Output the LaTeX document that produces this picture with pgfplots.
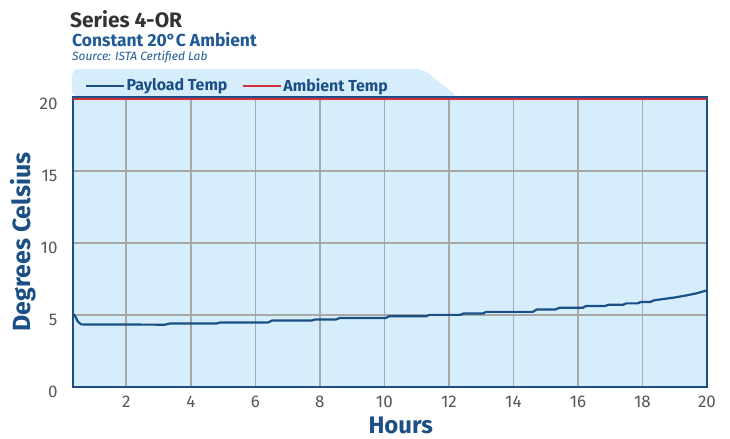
\documentclass[border=0pt]{standalone}
\usepackage{pgfplots}
\pgfplotsset{compat=1.18}
\usepackage{fontspec}
\setmainfont{Fira Sans}
\definecolor{bgblue}{HTML}{D6EEFB}
\definecolor{navy}{HTML}{1B4F86}
\definecolor{titleblue}{HTML}{1F5A96}
\definecolor{ambred}{HTML}{D3303C}
\definecolor{gridgray}{HTML}{A8A8A8}
\definecolor{ticktext}{HTML}{555555}
\definecolor{titlegray}{HTML}{333333}
\begin{document}
\begin{tikzpicture}
\useasboundingbox (0bp,0bp) rectangle (730bp,439bp);
\fill[bgblue, rounded corners=7bp] (72bp,342bp) -- (72bp,370bp) -- (423bp,370bp) -- (458bp,342bp) -- cycle;
\node[anchor=base west, inner sep=0] at (70bp,411bp) {\fontsize{21}{24}\selectfont\bfseries\color{titlegray}Series 4-OR};
\node[anchor=base west, inner sep=0] at (72bp,392bp) {\fontsize{17.5}{19}\selectfont\bfseries\color{titleblue}Constant 20°C Ambient};
\node[anchor=base west, inner sep=0] at (72bp,378bp) {\fontsize{12}{13}\selectfont\itshape\color{titleblue}Source: ISTA Certified Lab};
\begin{axis}[
  at={(73bp,52bp)}, anchor=south west,
  scale only axis, width=634bp, height=290bp,
  xmin=0.35, xmax=20, ymin=0, ymax=20.15,
  xtick={2,4,...,20}, ytick={0,5,10,15,20},
  grid=major, major grid style={gridgray, line width=1.5bp},
  major tick length=0,
  axis line style={navy, line width=2bp},
  axis background/.style={fill=bgblue},
  tick label style={font=\fontsize{17}{17}\selectfont, text=ticktext},
  /pgf/number format/assume math mode=true,
  xticklabel style={yshift=-5bp},
  yticklabel style={xshift=-12bp, yshift=-5bp},
  xlabel={Hours}, ylabel={Degrees Celsius},
  label style={font=\bfseries\fontsize{24}{24}\selectfont, text=navy},
  xlabel style={at={(axis description cs:0.517,-0.162)}, anchor=base, inner sep=0pt},
  ylabel style={at={(axis description cs:-0.079,0.5)}, anchor=center, font=\bfseries\fontsize{25}{25}\selectfont},
  legend style={at={(axis description cs:0.013,1)}, anchor=south west, draw=none, fill=none,
    legend columns=2, font=\bfseries\fontsize{16}{16}\selectfont, text=navy,
    /tikz/every even column/.append style={column sep=12bp}},
  legend image code/.code={\draw[#1] (0bp,0bp) -- (38bp,0bp);},
]
\addplot[navy, line width=2.2bp] coordinates {
(0.35,5.1) (0.42,4.9) (0.5,4.55) (0.6,4.35) (3.2,4.33) (3.35,4.41) (4.8,4.41) (4.9,4.48)
(6.4,4.48) (6.52,4.62) (7.75,4.62) (7.85,4.69) (8.5,4.69) (8.62,4.8) (10.05,4.8) (10.15,4.92)
(11.3,4.92) (11.4,5.01) (12.35,5.01) (12.45,5.1) (13.05,5.1) (13.15,5.22) (14.6,5.22) (14.72,5.38)
(15.3,5.38) (15.42,5.5) (16.15,5.5) (16.25,5.63) (16.85,5.63) (16.95,5.72) (17.4,5.72) (17.5,5.81)
(17.85,5.81) (17.95,5.91) (18.25,5.91) (18.35,6.02) (18.6,6.1) (19.0,6.22) (19.4,6.38) (19.7,6.52) (20,6.72)
};
\addlegendentry{Payload Temp}
\addplot[ambred, line width=2bp] coordinates {(0.35,20) (20,20)};
\addlegendentry{Ambient Temp}
\end{axis}
\end{tikzpicture}
\end{document}
